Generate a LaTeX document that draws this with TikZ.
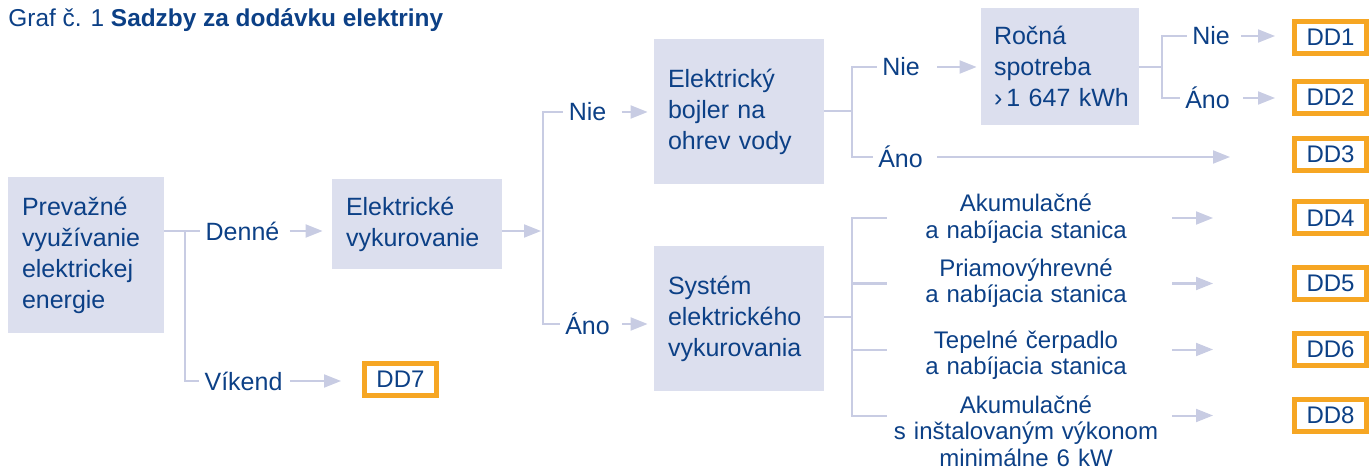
\documentclass[tikz,border=0pt]{standalone}
\usepackage{fontspec}
\setmainfont{Liberation Sans}
\usepackage{xcolor}
\usepackage{tikz}
\usetikzlibrary{arrows.meta}

\definecolor{txtblue}{RGB}{12,64,134}
\definecolor{boxfill}{RGB}{220,223,238}
\definecolor{linegray}{RGB}{200,204,227}
\definecolor{ddorange}{RGB}{246,166,35}

\begin{document}
\begin{tikzpicture}[x=0.5pt, y=-0.5pt, >={Triangle[length=8.5pt, width=6.5pt]},
    every node/.style={text=txtblue, font=\fontsize{12.5}{15.5}\selectfont},
    stepbox/.style={fill=boxfill, align=left, inner xsep=7pt, inner ysep=0pt},
    ans/.style={inner xsep=2.5pt, inner ysep=0pt},
    opt/.style={text width=139pt, align=center, inner sep=0pt, font=\fontsize{12}{13.2}\selectfont},
    dd/.style={draw=ddorange, line width=2.5pt, fill=white, minimum width=36pt, minimum height=16pt, inner sep=0pt, font=\fontsize{12}{14}\selectfont},
    tree/.style={draw=linegray, line width=1pt},
    arr/.style={tree, ->}]
    \useasboundingbox (0,0) rectangle (1370,470);

    \node (title) [anchor=base west, inner sep=0pt, font=\fontsize{12.2}{14}\selectfont] at (8,27) {Graf č. 1 \textbf{Sadzby za dodávku elektriny}};

    \node (prevazne) [stepbox, text width=64pt, minimum height=78pt] at (86,255) {Prevažné\\využívanie\\elektrickej\\energie};
    \node (elvyk) [stepbox, text width=71pt, minimum height=45pt] at (417,224) {Elektrické\\vykurovanie};
    \node (bojler) [stepbox, text width=71pt, minimum height=72.5pt] at (739,111.5) {Elektrický\\bojler na\\ohrev vody};
    \node (system) [stepbox, text width=71pt, minimum height=72.5pt] at (739,318.5) {Systém\\elektrického\\vykurovania};
    \node (rocna) [stepbox, text width=66pt, inner xsep=6.5pt, minimum height=58.5pt] at (1060,66.5) {Ročná\\spotreba\\›\,1~647~kWh};

    \node (denne) [ans] at (242.5,231) {Denné};
    \node (vikend) [ans] at (243.5,381) {Víkend};
    \node (nie1) [ans] at (587.5,112) {Nie};
    \node (ano1) [ans] at (587.5,324) {Áno};
    \node (nie2) [ans] at (901,67) {Nie};
    \node (ano2) [ans] at (900.5,157) {Áno};
    \node (nie3) [ans] at (1211,36) {Nie};
    \node (ano3) [ans] at (1207.5,98) {Áno};

    \node (akum) [opt] at (1026,218.5) {Akumulačné\\a nabíjacia stanica};
    \node (priamo) [opt] at (1026,283) {Priamovýhrevné\\a nabíjacia stanica};
    \node (tepel) [opt] at (1026,355) {Tepelné čerpadlo\\a nabíjacia stanica};
    \node (akum8) [opt] at (1026,431) {Akumulačné\\s inštalovaným výkonom\\minimálne 6 kW};

    \node (dd1) [dd] at (1330.5,37.5) {DD1};
    \node (dd2) [dd] at (1330.5,97.5) {DD2};
    \node (dd3) [dd] at (1330.5,154.5) {DD3};
    \node (dd4) [dd] at (1330.5,218) {DD4};
    \node (dd5) [dd] at (1330.5,283.5) {DD5};
    \node (dd6) [dd] at (1330.5,349.5) {DD6};
    \node (dd8) [dd] at (1330.5,415.5) {DD8};
    \node (dd7) [dd] at (400.5,379.5) {DD7};

    % first split
    \coordinate (j1) at (185,231);
    \draw [tree] (prevazne.east |- j1) -- (denne.west);
    \draw [tree] (j1) |- (vikend.west);
    \draw [arr, shorten <=2.5pt, shorten >=4.5pt] (denne) -- (elvyk.west |- denne);
    \draw [arr, shorten <=1pt, shorten >=10.5pt] (vikend) -- (dd7.west |- vikend);

    % heating
    \coordinate (j2) at (543,231);
    \draw [arr, shorten >=1pt] (elvyk.east |- j2) -- (j2);
    \draw [tree] (j2) |- (nie1.west);
    \draw [tree] (j2) |- (ano1.west);
    \draw [arr, shorten <=5pt, shorten >=3pt] (nie1) -- (bojler.west |- nie1);
    \draw [arr, shorten <=3.5pt, shorten >=3pt] (ano1) -- (system.west |- ano1);

    % boiler
    \coordinate (j3) at (852,111.5);
    \draw [tree] (bojler.east |- j3) -- (j3) |- (nie2.west);
    \draw [tree] (j3) |- (ano2.west);
    \draw [arr, shorten <=6pt, shorten >=2pt] (nie2) -- (rocna.west |- nie2);
    \draw [arr, shorten <=4.5pt, shorten >=31pt] (ano2) -- (dd3.west |- ano2);

    % consumption
    \coordinate (j5) at (1162,67);
    \draw [tree] (rocna.east |- j5) -- (j5) |- (nie3.west);
    \draw [tree] (j5) |- (ano3.west);
    \draw [arr, shorten <=3pt, shorten >=8.5pt] (nie3) -- (dd1.west |- nie3);
    \draw [arr, shorten <=4pt, shorten >=8.5pt] (ano3) -- (dd2.west |- ano3);

    % heating systems
    \coordinate (j4) at (852,317);
    \draw [tree] (system.east |- j4) -- (j4);
    \foreach \o/\d in {akum/dd4, priamo/dd5, tepel/dd6, akum8/dd8} {
        \draw [tree] (j4) |- (\o.west |- \d);
        \draw [arr, shorten <=3.5pt, shorten >=39.5pt] (\o.east |- \d) -- (\d.west);
    }
\end{tikzpicture}
\end{document}
